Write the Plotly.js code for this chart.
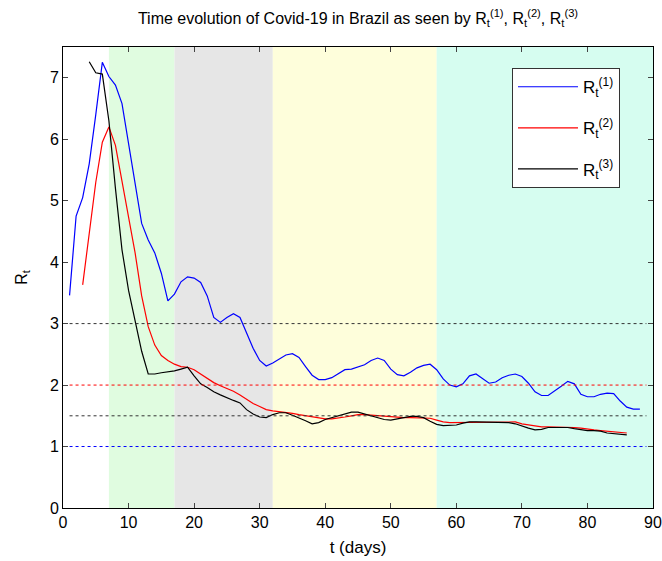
<!DOCTYPE html>
<html>
<head>
<meta charset="utf-8">
<script src="https://cdn.plot.ly/plotly-3.0.1.min.js"></script>
<style>html,body{margin:0;padding:0;background:#fff;}#chart{width:662px;height:561px;}</style>
</head>
<body>
<div id="chart"></div>
<script>
// ---- data ----
const daysR1 = [];
for (let d = 1; d <= 88; d++) daysR1.push(d);
const valuesR1 = [3.46,4.75,5.05,5.6,6.4,7.25,7.02,6.88,6.58,5.95,5.3,4.63,4.36,4.15,3.82,3.37,3.48,3.68,3.76,3.74,
  3.67,3.45,3.10,3.02,3.10,3.16,3.10,2.86,2.6,2.40,2.31,2.36,2.43,2.49,2.51,2.45,2.3,2.16,2.09,2.09,
  2.12,2.19,2.25,2.26,2.29,2.33,2.40,2.44,2.40,2.26,2.17,2.15,2.21,2.28,2.32,2.34,2.25,2.10,2.0,1.97,
  2.02,2.15,2.18,2.10,2.03,2.05,2.12,2.16,2.18,2.14,2.03,1.89,1.83,1.83,1.90,1.98,2.06,2.02,1.85,1.81,
  1.81,1.85,1.87,1.86,1.74,1.64,1.61,1.61];

const daysR2 = [];
for (let d = 3; d <= 86; d++) daysR2.push(d);
const valuesR2 = [3.63,4.5,5.3,5.95,6.2,5.9,5.3,4.75,4.15,3.45,2.95,2.65,2.48,2.40,2.34,2.30,2.29,2.25,
  2.18,2.10,2.04,1.99,1.95,1.90,1.84,1.77,1.70,1.65,1.60,1.58,1.57,1.56,1.54,1.52,1.50,1.48,1.46,1.45,
  1.45,1.46,1.48,1.50,1.52,1.52,1.51,1.50,1.49,1.48,1.47,1.47,1.47,1.47,1.47,1.46,1.43,1.40,1.39,1.39,
  1.39,1.40,1.40,1.40,1.40,1.40,1.40,1.40,1.40,1.37,1.35,1.33,1.32,1.32,1.32,1.32,1.32,1.31,1.30,1.28,
  1.27,1.26,1.25,1.24,1.23,1.22];

const daysR3 = [];
for (let d = 4; d <= 86; d++) daysR3.push(d);
const valuesR3 = [7.26,7.08,7.06,6.3,5.2,4.2,3.54,3.05,2.55,2.18,2.18,2.20,2.21,2.23,2.26,2.29,2.15,
  2.02,1.96,1.89,1.84,1.79,1.75,1.71,1.60,1.53,1.48,1.47,1.52,1.55,1.55,1.51,1.47,1.42,1.37,1.39,1.44,
  1.47,1.50,1.52,1.56,1.56,1.53,1.49,1.46,1.44,1.43,1.45,1.47,1.49,1.49,1.47,1.41,1.36,1.34,1.34,1.35,
  1.38,1.40,1.40,1.40,1.39,1.39,1.39,1.39,1.37,1.33,1.30,1.27,1.28,1.31,1.31,1.31,1.31,1.29,1.27,1.26,
  1.26,1.25,1.22,1.21,1.19,1.19];

const seriesNames = ['R<sub>t</sub><sup>(1)</sup>', 'R<sub>t</sub><sup>(2)</sup>', 'R<sub>t</sub><sup>(3)</sup>'];
const seriesColors = ['#0000ff', '#ff0000', '#000000'];

// shaded phases (day boundaries)
const phaseBounds = [7, 17, 32, 57, 90];
const phaseColors = ['#e0fce0', '#e6e6e6', '#fefedb', '#d6fdf0'];

// dotted reference levels
const refLevels = [3, 2, 1.5, 1];
const refColors = ['#333333', '#ff0000', '#333333', '#0000ff'];
const refSpan = [1, 89];

const xTicks = [0,10,20,30,40,50,60,70,80,90];
const yTicks = [0,1,2,3,4,5,6,7];

// ---- build ----
const shapes = [];
for (let i = 0; i < phaseColors.length; i++) {
  shapes.push({type:'rect', layer:'below', xref:'x', yref:'paper',
    x0: phaseBounds[i], x1: phaseBounds[i+1], y0: 0, y1: 1,
    fillcolor: phaseColors[i], line: {width: 0}});
}
for (let i = 0; i < refLevels.length; i++) {
  shapes.push({type:'line', layer:'above', xref:'x', yref:'y',
    x0: refSpan[0], x1: refSpan[1], y0: refLevels[i], y1: refLevels[i],
    line: {color: refColors[i], width: 1, dash: 'dot'}});
}

const xs = [daysR1, daysR2, daysR3];
const ys = [valuesR1, valuesR2, valuesR3];
const traces = xs.map((x, i) => ({
  x: x, y: ys[i], type: 'scatter', mode: 'lines', name: seriesNames[i],
  legendgroup: 'g' + i,
  line: {color: seriesColors[i], width: 1.2}
}));

const fam = '"Liberation Sans", Arial, sans-serif';
const narrow = '"Liberation Sans Narrow", "Liberation Sans", Arial, sans-serif';

const layout = {
  width: 662, height: 561,
  margin: {l: 63, r: 9, t: 47, b: 53},
  paper_bgcolor: '#ffffff',
  plot_bgcolor: '#ffffff',
  font: {family: fam, size: 14, color: '#000'},
  showlegend: true,
  title: {text: 'Time evolution of Covid-19 in Brazil as seen by R<sub>t</sub><sup>(1)</sup>, R<sub>t</sub><sup>(2)</sup>, R<sub>t</sub><sup>(3)</sup>',
    x: 0.5, xref: 'paper', xanchor: 'center', y: 0.968, yanchor: 'middle', font: {family: fam, size: 16, color: '#000'}},
  xaxis: {range: [0, 90], tickvals: xTicks, ticktext: xTicks.map(String), ticks: 'inside', ticklen: 5,
    showline: true, linecolor: '#000', linewidth: 1, mirror: 'ticks', showgrid: false, zeroline: false,
    tickfont: {family: narrow, size: 16, color: '#000'},
    title: {text: 't (days)', font: {family: narrow, size: 17, color: '#000'}, standoff: 10}},
  yaxis: {range: [0, 7.5], tickvals: yTicks, ticktext: yTicks.map(String), ticks: 'inside', ticklen: 5,
    showline: true, linecolor: '#000', linewidth: 1, mirror: 'ticks', showgrid: false, zeroline: false,
    tickfont: {family: narrow, size: 16, color: '#000'},
    title: {text: 'R<sub>t</sub>', font: {family: fam, size: 16, color: '#000'}, standoff: 18}},
  legend: {x: 0.761, y: 0.954, xanchor: 'left', yanchor: 'top', bgcolor: '#ffffff',
    bordercolor: '#333', borderwidth: 1, font: {family: fam, size: 17, color: '#000'},
    traceorder: 'grouped', itemwidth: 60, tracegroupgap: 16},
  shapes: shapes
};

Plotly.newPlot('chart', traces, layout, {displayModeBar: false, staticPlot: true});
</script>
</body>
</html>
